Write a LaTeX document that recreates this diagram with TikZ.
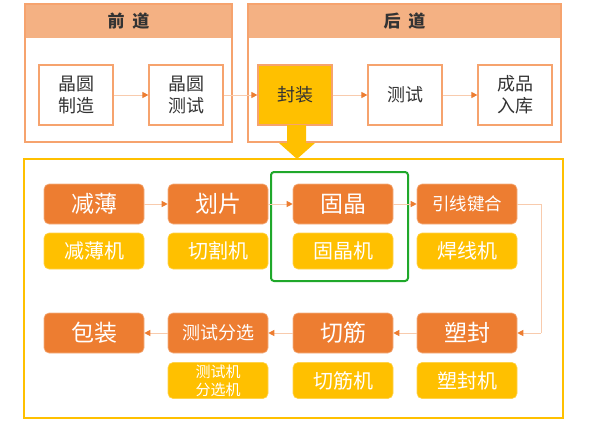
\documentclass[tikz,border=0pt]{standalone}
\usepackage{fontspec}
\newfontfamily\cjk{Noto Sans CJK SC}
\usetikzlibrary{arrows.meta}
\definecolor{ora}{HTML}{ED7D31}
\definecolor{yel}{HTML}{FFC000}
\definecolor{hdr}{HTML}{F4B183}
\definecolor{pbord}{HTML}{F6A36E}
\definecolor{lline}{HTML}{F8CBAD}
\definecolor{grn}{HTML}{1FA82A}
\definecolor{dtxt}{HTML}{333333}
\tikzset{
  topbox/.style={draw=pbord, line width=1.2pt, fill=white, minimum width=74pt, minimum height=60pt, inner sep=0pt, align=center, font=\cjk\fontsize{18}{22}\selectfont, text=dtxt},
  procbox/.style={draw=hdr, line width=0.6pt, fill=ora, rounded corners=5pt, minimum width=100pt, minimum height=40pt, inner sep=0pt, text=white, align=center, font=\cjk\fontsize{23}{26}\selectfont},
  machbox/.style={draw=yel!70!white, line width=0.6pt, fill=yel, rounded corners=5pt, minimum width=100pt, minimum height=36pt, inner sep=0pt, text=white, align=center, font=\cjk\fontsize{20}{22}\selectfont},
  flow/.style={draw=lline, line width=1pt, -{Triangle[color=ora, length=6pt, width=6pt]}},
  hdrtext/.style={font=\cjk\bfseries\fontsize{17}{20}\selectfont, text=dtxt},
}
\begin{document}
\begin{tikzpicture}[x=1pt, y=-1pt]
\useasboundingbox (0,0) rectangle (600,426);
% top panels
\draw[pbord, line width=1.2pt, fill=white] (25,4) rectangle (232,142);
\fill[hdr] (25,4) rectangle (232,38);
\draw[pbord, line width=1.2pt] (25,4) rectangle (232,142);
\node[hdrtext] (h1) at (128.5,21) {前\hspace{8pt}道};
\draw[pbord, line width=1.2pt, fill=white] (248,4) rectangle (561,142);
\fill[hdr] (248,4) rectangle (561,38);
\draw[pbord, line width=1.2pt] (248,4) rectangle (561,142);
\node[hdrtext] (h2) at (404.5,21) {后\hspace{8pt}道};
% top boxes
\node[topbox] (a1) at (76,95) {晶圆\\制造};
\node[topbox] (a2) at (186,95) {晶圆\\测试};
\node[topbox, fill=yel] (a3) at (295,95) {封装};
\node[topbox] (a4) at (405,95) {测试};
\node[topbox] (a5) at (515,95) {成品\\入库};
\draw[flow] (a1) -- (a2);
\draw[flow] (a2) -- (a3);
\draw[flow] (a3) -- (a4);
\draw[flow] (a4) -- (a5);
% main frame
\draw[yel, line width=2.6pt, fill=white] (24,159) rectangle (563,418);
% big arrow
\fill[yel] (287,125) -- (306,125) -- (306,143) -- (315,143) -- (297,159) -- (279,143) -- (287,143) -- cycle;
% green frame
\draw[grn, line width=2pt, rounded corners=3pt] (271,172) rectangle (408,281);
% row 1
\node[procbox] (p1) at (94,204) {减薄};
\node[procbox] (p2) at (218,204) {划片};
\node[procbox] (p3) at (343,204) {固晶};
\node[procbox, font=\cjk\fontsize{17.5}{20}\selectfont] (p4) at (467,204) {引线键合};
\node[machbox] (m1) at (94,251) {减薄机};
\node[machbox] (m2) at (218,251) {切割机};
\node[machbox] (m3) at (343,251) {固晶机};
\node[machbox] (m4) at (467,251) {焊线机};
% row 2
\node[procbox] (q1) at (94,333) {包装};
\node[procbox, font=\cjk\fontsize{18}{20}\selectfont] (q2) at (218,333) {测试分选};
\node[procbox] (q3) at (343,333) {切筋};
\node[procbox] (q4) at (467,333) {塑封};
\node[machbox, font=\cjk\fontsize{15}{18}\selectfont] (n2) at (218,380.5) {测试机\\分选机};
\node[machbox] (n3) at (343,380.5) {切筋机};
\node[machbox] (n4) at (467,380.5) {塑封机};
% flows
\draw[flow] (p1) -- (p2);
\draw[flow] (p2) -- (p3);
\draw[flow] (p3) -- (p4);
\coordinate (c1) at (541,204);
\coordinate (c2) at (541,333);
\draw[draw=lline, line width=1pt] (p4.east) -- (c1) -- (c2);
\draw[flow] (c2) -- (q4.east);
\draw[flow] (q4) -- (q3);
\draw[flow] (q3) -- (q2);
\draw[flow] (q2) -- (q1);
\end{tikzpicture}
\end{document}
